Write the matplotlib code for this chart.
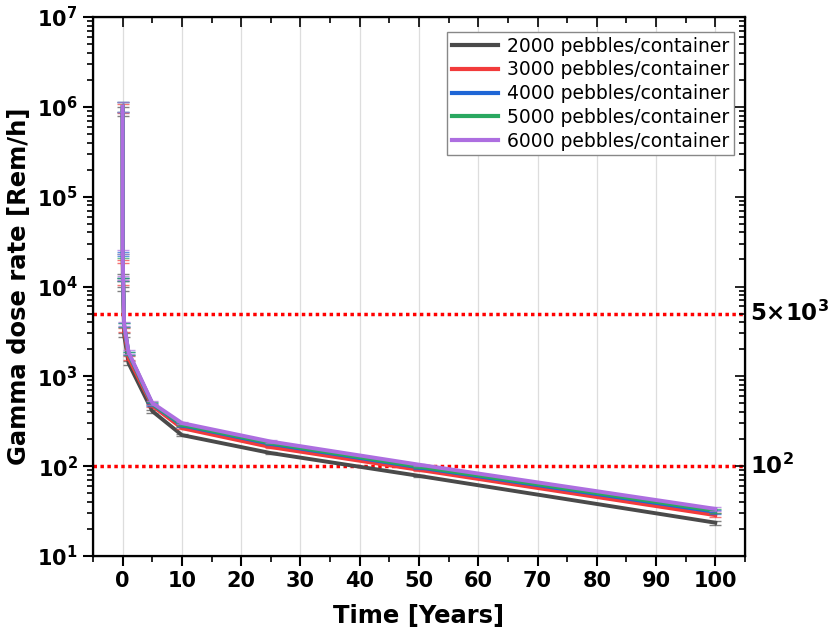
import numpy as np
import matplotlib
matplotlib.use("Agg")
import matplotlib.pyplot as plt
from matplotlib.ticker import LogLocator, MultipleLocator, NullFormatter

# decay time [years] and gamma dose rate [Rem/h]
t = [0, 0.02, 0.08, 0.25, 1, 5, 10, 25, 50, 100]
d2000 = [9.0e5, 1.3e4, 9.5e3, 2.9e3, 1.40e3, 410, 222, 140, 78, 23.5]
d3000 = [9.6e5, 1.9e4, 1.1e4, 3.3e3, 1.60e3, 470, 265, 163, 91, 28.5]
d4000 = [1.0e6, 2.3e4, 1.2e4, 3.7e3, 1.80e3, 490, 285, 177, 97, 31]
d5000 = [1.0e6, 2.2e4, 1.2e4, 3.7e3, 1.80e3, 495, 290, 181, 99, 32]
d6000 = [1.0e6, 2.4e4, 1.25e4, 3.8e3, 1.85e3, 505, 302, 188, 104, 33.5]
rel_err = [0.12, 0.05, 0.05, 0.05, 0.05, 0.04, 0.03, 0.03, 0.03, 0.05]

labels = ["2000 pebbles/container", "3000 pebbles/container", "4000 pebbles/container",
          "5000 pebbles/container", "6000 pebbles/container"]
colors = ["#4a4a4a", "#f23b3b", "#1f66d6", "#2aa860", "#ad6ee0"]
limits = [5e3, 1e2]
limit_labels = [r"$\mathbf{5{\times}10^3}$", r"$\mathbf{10^2}$"]

fig = plt.figure(figsize=(8.32, 6.28), dpi=100)
ax = fig.add_axes([0.1118, 0.1146, 0.7836, 0.8583])

for d, c, lab in zip([d2000, d3000, d4000, d5000, d6000], colors, labels):
    d = np.array(d)
    err = d * np.array(rel_err)
    ax.errorbar(t, d, yerr=err, color=c, ecolor=c, elinewidth=1.0, capsize=4,
                capthick=1.0, alpha=0.7, lw=0)
    ax.plot(t, d, color=c, lw=2.8, label=lab, solid_joinstyle="round")

for y in limits:
    ax.axhline(y, color="#ff0000", ls=(0, (1, 1)), lw=2.5, zorder=1)

ax.set_yscale("log")
ax.set_xlim(-5, 105)
ax.set_ylim(10, 1e7)
ax.xaxis.set_major_locator(MultipleLocator(10))
ax.xaxis.set_minor_locator(MultipleLocator(5))
ax.yaxis.set_major_locator(LogLocator(base=10, numticks=10))
ax.yaxis.set_minor_locator(LogLocator(base=10, subs=np.arange(2, 10), numticks=20))
ax.yaxis.set_minor_formatter(NullFormatter())
ax.grid(axis="x", which="major", color="#dddddd", lw=0.9)
ax.set_axisbelow(True)

ax.tick_params(which="major", direction="out", length=7, width=1.5, labelsize=15, pad=4)
ax.tick_params(which="minor", direction="out", length=4, width=1.2)
for lb in ax.get_xticklabels() + ax.get_yticklabels():
    lb.set_fontweight("bold")
for s in ax.spines.values():
    s.set_linewidth(1.6)

ax.set_xlabel("Time [Years]", fontsize=17.5, fontweight="bold", labelpad=9)
ax.set_ylabel("Gamma dose rate [Rem/h]", fontsize=17.5, fontweight="bold", labelpad=4)

# mirrored ticks pointing inward on top and right
axr = ax.twinx()
axr.set_yscale("log")
axr.set_ylim(ax.get_ylim())
axr.yaxis.set_major_locator(LogLocator(base=10, numticks=10))
axr.yaxis.set_minor_locator(LogLocator(base=10, subs=np.arange(2, 10), numticks=20))
axr.tick_params(which="both", direction="in", labelright=False, width=1.2)
axr.tick_params(which="major", length=7)
axr.tick_params(which="minor", length=4)
axt = ax.twiny()
axt.set_xlim(ax.get_xlim())
axt.xaxis.set_major_locator(MultipleLocator(10))
axt.xaxis.set_minor_locator(MultipleLocator(5))
axt.tick_params(which="both", direction="in", labeltop=False, width=1.2)
axt.tick_params(which="major", length=7)
axt.tick_params(which="minor", length=4)

for y, txt in zip(limits, limit_labels):
    ax.text(1.008, y, txt, transform=ax.get_yaxis_transform(), fontsize=16.5,
            fontweight="bold", va="center", ha="left")

leg = ax.legend(loc="upper right", fontsize=13.5, frameon=True, fancybox=False,
                edgecolor="#888888", framealpha=1, handlelength=2.5,
                borderpad=0.25, labelspacing=0.25, handletextpad=0.45,
                borderaxespad=0, bbox_to_anchor=(0.983, 0.972))
leg.get_frame().set_linewidth(1.0)
for h in leg.get_lines():
    h.set_linewidth(3)

fig.savefig("out.png", dpi=100)
